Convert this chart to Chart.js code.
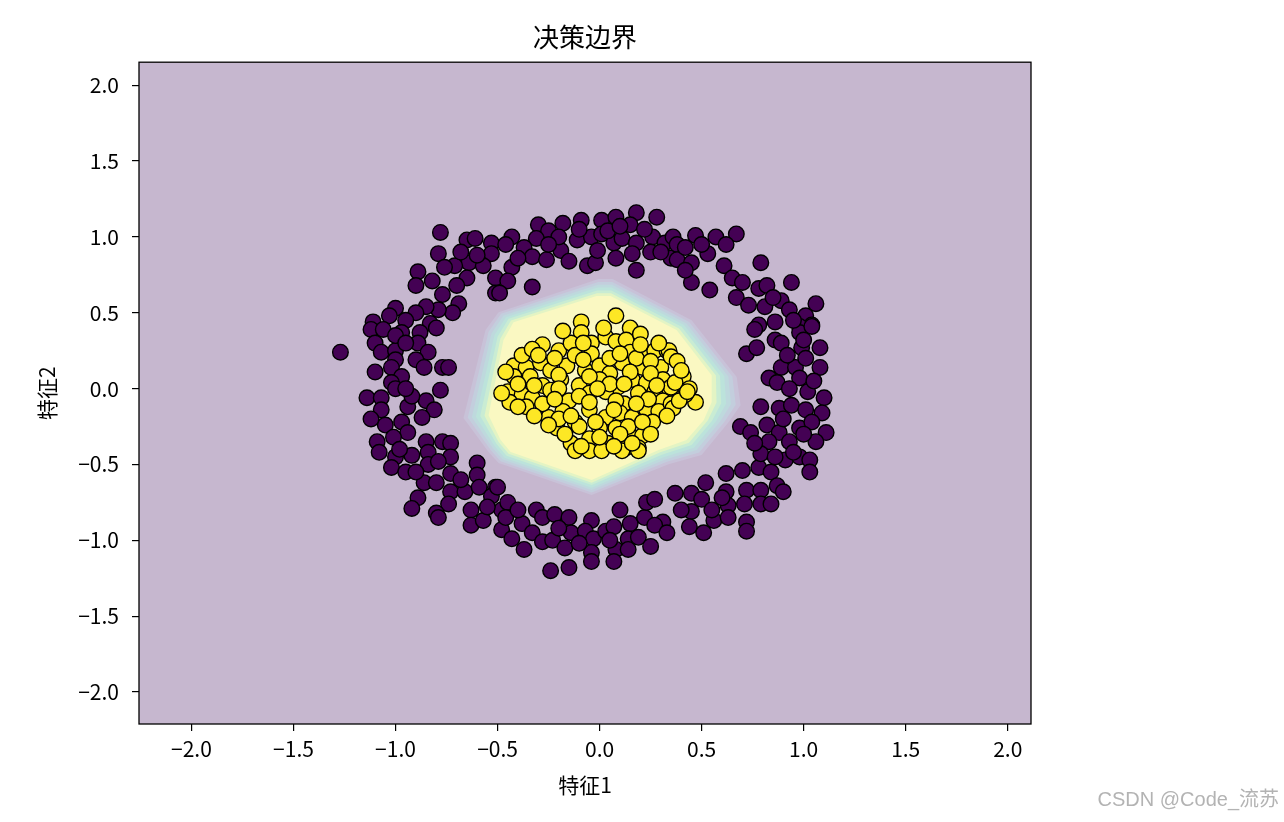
<!DOCTYPE html>
<html>
<head>
<meta charset="utf-8">
<title>决策边界</title>
<script src="https://cdn.jsdelivr.net/npm/chart.js@4.4.1/dist/chart.umd.min.js"></script>
<style>
    html, body { margin: 0; padding: 0; background: #fff; }
    #wrap { width: 1284px; height: 822px; }
</style>
</head>
<body>
<div id="wrap"><canvas id="myChart" width="1284" height="822"></canvas></div>
<script>
// gioi han truc (x.min-1 .. x.max+1)
var xLimits = [-2.257, 2.114];
var yLimits = [-2.211, 2.152];
var xTicks = [-2.0, -1.5, -1.0, -0.5, 0.0, 0.5, 1.0, 1.5, 2.0];
var yTicks = [-2.0, -1.5, -1.0, -0.5, 0.0, 0.5, 1.0, 1.5, 2.0];

// lop 0 - vong ngoai
var class0Points = [
    [-0.78,1.03],[-0.79,0.89],[-0.65,0.98],[-0.61,0.99],[-0.53,0.96],[-0.53,0.89],[-0.64,0.83],[-0.57,0.81],[-0.51,0.73],[-0.71,0.81],
    [-0.76,0.80],[-0.89,0.77],[-0.90,0.68],[-0.82,0.71],[-0.65,0.73],[-0.70,0.68],[-0.51,0.63],[-0.77,0.62],[-0.69,0.56],[-0.72,0.50],
    [-0.79,0.52],[-0.85,0.54],[-0.90,0.50],[-1.00,0.53],[-1.03,0.48],[-1.11,0.44],[-0.95,0.45],[-0.83,0.43],
    [-0.43,1.00],[-0.30,1.08],[-0.25,1.04],[-0.18,1.09],[-0.09,1.11],[0.01,1.11],[0.08,1.13],[0.18,1.16],[0.28,1.13],[0.15,1.08],
    [-0.31,0.99],[-0.37,0.93],[-0.46,0.95],[-0.33,0.87],[-0.26,0.85],[-0.19,0.91],[-0.11,0.98],[-0.04,1.00],[0.01,1.02],[-0.06,0.81],
    [-0.02,0.83],[-0.01,0.91],[0.07,0.96],[0.11,0.99],[0.18,0.96],[0.18,0.78],[0.16,0.89],[0.26,1.00],[0.25,0.90],[0.32,0.96],
    [0.35,0.86],[-0.43,0.80],[-0.45,0.71],[-0.33,0.67],[-0.49,0.63],[0.04,1.04],
    [0.36,1.00],[0.38,0.95],[0.47,1.01],[0.57,1.00],[0.67,1.02],[0.53,0.89],[0.62,0.95],[0.38,0.85],[0.45,0.83],[0.61,0.81],
    [0.65,0.73],[0.45,0.70],[0.54,0.65],[0.79,0.83],[0.94,0.70],[0.78,0.66],[0.82,0.68],[0.67,0.60],[0.73,0.55],[0.81,0.54],
    [0.89,0.58],[0.93,0.52],[1.06,0.56],[1.01,0.48],[0.86,0.44],[0.78,0.42],[1.04,0.42],[0.98,0.41],
    [-1.27,0.24],[-1.12,0.39],[-0.97,0.37],[-0.88,0.37],[-0.80,0.40],[-1.10,0.30],[-1.07,0.24],[-1.00,0.25],[-0.89,0.30],[-0.84,0.24],
    [-1.00,0.19],[-0.90,0.19],[-1.10,0.11],[-1.02,0.14],[-0.97,0.08],[-0.86,0.14],[-0.77,0.14],[-0.74,0.14],[-1.02,0.04],[-1.00,0.00],
    [-1.14,-0.06],[-1.07,-0.06],[-0.78,-0.01],[-0.85,-0.08],[-0.94,-0.12],[-0.81,-0.14],[-1.07,-0.14],[-1.05,-0.24],[-0.97,-0.22],[-0.87,-0.19],
    [-0.94,-0.29],[-1.01,-0.32],[-1.09,-0.35],[-0.85,-0.35],[-0.77,-0.35],[-0.73,-0.36],[-1.06,0.39],[-1.00,0.35],
    [0.72,0.23],[0.77,0.27],[0.76,0.39],[0.86,0.32],[0.89,0.30],[0.98,0.37],[1.04,0.41],[1.08,0.27],[0.99,0.27],[0.89,0.14],
    [0.96,0.14],[1.01,0.20],[1.08,0.14],[0.83,0.07],[0.87,0.04],[0.98,0.07],[1.02,-0.02],[1.10,-0.06],[0.79,-0.12],[0.88,-0.13],
    [0.94,-0.11],[1.01,-0.14],[1.09,-0.16],[0.69,-0.25],[0.74,-0.29],[0.82,-0.24],[0.88,-0.29],[0.98,-0.26],[1.04,-0.22],[1.11,-0.29],
    [0.83,-0.35],[0.93,-0.35],[1.06,-0.35],
    [-1.08,-0.42],[-1.00,-0.45],[-0.92,-0.44],[-0.84,-0.42],[-0.73,-0.45],[-0.60,-0.49],[-1.02,-0.52],[-0.95,-0.55],[-0.84,-0.50],[-0.79,-0.48],
    [-0.86,-0.62],[-0.80,-0.62],[-0.73,-0.56],[-0.60,-0.57],[-0.73,-0.68],[-0.66,-0.68],[-0.59,-0.65],[-0.51,-0.65],[-0.53,-0.71],[-0.74,-0.76],
    [-0.89,-0.72],[-0.92,-0.79],[-0.80,-0.82],[-0.79,-0.85],[-0.63,-0.80],[-0.63,-0.90],[-0.57,-0.87],[-0.48,-0.80],[-0.48,-0.93],
    [-0.50,-0.65],[-0.45,-0.75],[-0.46,-0.85],[-0.43,-0.99],[-0.38,-0.89],[-0.37,-1.06],[-0.31,-0.80],[-0.28,-0.85],[-0.33,-0.95],[-0.28,-1.01],
    [-0.22,-0.83],[-0.15,-0.85],[-0.23,-1.00],[-0.17,-1.05],[-0.14,-0.95],[-0.24,-1.20],[-0.15,-1.18],[-0.04,-0.87],[-0.07,-0.94],[-0.03,-0.99],
    [-0.04,-1.08],[-0.04,-1.14],[0.03,-0.94],[0.07,-0.91],[0.10,-0.80],[0.15,-0.89],[0.08,-1.06],[0.07,-1.14],[0.14,-0.99],[0.19,-0.98],
    [0.14,-1.06],[0.22,-0.85],[0.23,-0.75],[0.27,-0.73],[0.25,-1.04],[0.31,-0.88],[0.27,-0.90],
    [0.37,-0.69],[0.45,-0.69],[0.45,-0.81],[0.44,-0.91],[0.51,-0.95],[0.52,-0.62],[0.50,-0.73],[0.56,-0.87],[0.62,-0.56],[0.62,-0.68],
    [0.63,-0.77],[0.63,-0.85],[0.70,-0.54],[0.72,-0.67],[0.71,-0.76],[0.72,-0.88],[0.72,-0.94],[0.78,-0.52],[0.79,-0.67],[0.79,-0.76],
    [0.84,-0.55],[0.87,-0.64],[0.90,-0.68],[0.84,-0.76],[0.79,-0.43],[0.91,-0.47],[0.98,-0.45],[1.03,-0.47],[1.03,-0.55],
    [-0.20,1.00],[-0.10,1.05],[0.10,1.07],[0.22,1.05],[0.30,0.90],[0.42,0.93],[0.50,0.95],[-0.15,0.84],[0.08,0.86],[0.42,0.78],
    [-0.60,0.88],[-0.68,0.90],[-0.40,0.86],[-0.25,0.95],[0.70,0.70],[0.85,0.60],[0.95,0.45],[1.00,0.32],[0.92,0.22],[1.05,0.05],
    [0.93,0.00],[0.90,-0.20],[1.00,-0.30],[0.95,-0.42],[0.86,-0.45],[0.76,-0.36],[0.60,-0.72],[0.55,-0.80],[0.40,-0.80],[0.33,-0.95],
    [0.05,-1.00],[-0.10,-1.02],[-0.20,-0.92],[-0.40,-0.80],[-0.55,-0.78],[-0.68,-0.60],[-0.95,0.30],[-0.92,-0.05],[-0.95,0.00],[-1.12,-0.20],
    [-0.98,-0.40],[-0.90,-0.55]
];

// lop 1 - cum o giua
var class1Points = [
    [0.08,0.48],[-0.09,0.44],[0.15,0.40],[-0.09,0.37],[-0.28,0.29],[-0.20,0.25],[-0.14,0.30],[-0.04,0.30],[0.03,0.34],[0.08,0.31],
    [0.13,0.32],[-0.04,0.23],[0.15,0.24],[0.23,0.23],[0.27,0.25],[0.33,0.25],[-0.42,0.15],[-0.36,0.14],[-0.29,0.17],[-0.24,0.12],
    [-0.16,0.15],[-0.07,0.12],[0.00,0.15],[0.11,0.17],[0.21,0.14],[0.30,0.14],[0.05,0.10],[-0.42,0.08],[-0.34,0.08],[-0.28,0.02],
    [-0.19,0.06],[-0.10,0.02],[0.00,0.06],[0.09,0.01],[0.16,0.06],[0.23,0.04],[0.31,0.06],[0.34,0.00],[-0.45,-0.02],[-0.38,-0.04],
    [-0.33,-0.06],[-0.24,-0.01],[-0.15,-0.08],[-0.05,-0.03],[0.03,-0.02],[0.12,-0.10],[0.19,-0.03],[0.27,-0.02],[0.31,-0.08],[-0.44,-0.09],
    [-0.36,-0.12],[-0.25,-0.19],[-0.18,-0.15],[-0.12,-0.22],[-0.05,-0.14],[0.03,-0.19],[0.10,-0.16],[0.16,-0.19],[0.23,-0.14],[0.29,-0.15],
    [-0.21,-0.26],[-0.10,-0.25],[0.00,-0.26],[0.08,-0.26],[0.16,-0.32],[0.21,-0.31],[-0.14,-0.36],[-0.05,-0.33],[0.04,-0.36],[0.13,-0.39],
    [0.19,-0.39],[0.34,0.25],[0.35,0.21],[0.41,0.08],[0.44,0.00],[0.47,-0.09],[0.35,0.01],[0.37,0.04],[0.35,-0.10],[0.36,-0.13],
    [-0.48,-0.03],[-0.12,-0.41],[-0.05,-0.41],[0.01,-0.41],[0.11,-0.41],[0.19,-0.41],
    [-0.38,0.22],[-0.22,0.20],[-0.12,0.22],[0.05,0.20],[0.18,0.20],[0.25,0.18],[-0.32,0.02],[-0.05,0.08],[0.05,0.03],[0.24,-0.07],
    [-0.28,-0.10],[-0.10,-0.05],[0.08,-0.08],[-0.20,-0.20],[-0.02,-0.22],[0.14,-0.25],[0.26,-0.22],[-0.25,-0.24],
    [-0.18,0.38],[0.02,0.40],[0.20,0.36],[-0.33,0.26],[-0.08,0.30],[0.20,0.29],[0.29,0.30],[-0.30,0.22],[-0.08,0.19],[0.10,0.23],
    [0.38,0.18],[-0.46,0.11],[-0.20,0.09],[0.15,0.11],[0.25,0.10],[0.40,0.12],[-0.40,0.03],[-0.20,0.00],[-0.01,0.00],[0.12,0.03],
    [0.28,0.02],[0.42,-0.04],[-0.40,-0.12],[-0.22,-0.07],[-0.05,-0.09],[0.18,-0.10],[0.39,-0.08],[0.43,-0.02],[-0.32,-0.18],[-0.14,-0.18],
    [0.07,-0.14],[0.21,-0.22],[0.33,-0.18],[-0.17,-0.30],[0.00,-0.32],[0.10,-0.30],[0.25,-0.30],[-0.09,-0.38],[0.07,-0.38],[0.16,-0.36]
];

// cac duong muc cua contourf (tu ngoai vao trong)
var level1 = [[-0.005,0.722],[0.064,0.722],[0.451,0.451],[0.672,0.076],[0.691,-0.109],[0.632,-0.221],[0.500,-0.438],[0.338,-0.498],[-0.039,-0.702],[-0.495,-0.491],[-0.544,-0.418],[-0.667,-0.194],[-0.559,0.386],[-0.495,0.504]];
var level2 = [[-0.007,0.703],[0.062,0.703],[0.439,0.440],[0.651,0.078],[0.667,-0.106],[0.612,-0.219],[0.488,-0.421],[0.330,-0.482],[-0.039,-0.685],[-0.485,-0.479],[-0.534,-0.405],[-0.646,-0.191],[-0.544,0.375],[-0.483,0.493]];
var level3 = [[-0.008,0.685],[0.061,0.685],[0.426,0.429],[0.631,0.080],[0.644,-0.102],[0.591,-0.217],[0.475,-0.405],[0.322,-0.467],[-0.039,-0.669],[-0.475,-0.467],[-0.524,-0.392],[-0.626,-0.188],[-0.530,0.364],[-0.471,0.482]];
var level4 = [[-0.010,0.666],[0.059,0.666],[0.414,0.419],[0.611,0.083],[0.620,-0.099],[0.571,-0.215],[0.463,-0.389],[0.314,-0.452],[-0.039,-0.653],[-0.466,-0.455],[-0.515,-0.379],[-0.606,-0.185],[-0.515,0.353],[-0.459,0.471]];
var level5 = [[-0.012,0.647],[0.057,0.647],[0.402,0.408],[0.590,0.085],[0.596,-0.096],[0.551,-0.212],[0.451,-0.372],[0.305,-0.436],[-0.039,-0.636],[-0.456,-0.442],[-0.505,-0.365],[-0.585,-0.181],[-0.500,0.342],[-0.446,0.460]];
var level6 = [[-0.013,0.629],[0.056,0.629],[0.389,0.397],[0.570,0.087],[0.573,-0.092],[0.530,-0.210],[0.438,-0.356],[0.297,-0.420],[-0.039,-0.620],[-0.446,-0.430],[-0.495,-0.352],[-0.564,-0.178],[-0.486,0.331],[-0.434,0.449]];
var level7 = [[-0.015,0.610],[0.054,0.610],[0.377,0.386],[0.549,0.089],[0.549,-0.089],[0.510,-0.208],[0.426,-0.339],[0.289,-0.405],[-0.039,-0.603],[-0.436,-0.418],[-0.485,-0.339],[-0.544,-0.175],[-0.471,0.320],[-0.422,0.438]];

// mau viridis alpha 0.3 tren nen trang
var levelColors = ['rgb(198,183,207)', 'rgb(200,194,216)', 'rgb(195,206,221)', 'rgb(190,217,221)', 'rgb(188,227,219)', 'rgb(201,236,211)', 'rgb(227,244,196)', 'rgb(250,248,194)'];

var fontFamily = '"Noto Sans CJK SC", "Noto Sans", sans-serif';

function toXY(arr) {
    var out = arr.map(function (p) { return { x: p[0], y: p[1] }; });
    return out;
}
function closed(arr) {
    var out = toXY(arr);
    out.push({ x: arr[0][0], y: arr[0][1] });
    return out;
}
function tickText(v) {
    return (v < 0 ? "\u2212" : "") + Math.abs(v).toFixed(1);
}

var levels = [
    [[xLimits[0], yLimits[0]], [xLimits[1], yLimits[0]], [xLimits[1], yLimits[1]], [xLimits[0], yLimits[1]]],
    level1, level2, level3, level4, level5, level6, level7
];

var datasets = [];
datasets.push({
    type: 'scatter', label: 'class0', data: toXY(class0Points), order: 1,
    backgroundColor: '#440154', borderColor: '#000', borderWidth: 1.4, pointRadius: 7.8, pointHoverRadius: 7.8
});
datasets.push({
    type: 'scatter', label: 'class1', data: toXY(class1Points), order: 0,
    backgroundColor: '#fde725', borderColor: '#000', borderWidth: 1.4, pointRadius: 7.8, pointHoverRadius: 7.8
});
for (var i = 0; i < levels.length; i++) {
    datasets.push({
        type: 'line', label: 'level' + i, data: closed(levels[i]), order: 30 - i,
        fill: 'shape', backgroundColor: levelColors[i], borderColor: levelColors[i],
        borderWidth: 0, pointRadius: 0, tension: 0
    });
}

// vien khung + chu watermark
var framePlugin = {
    id: 'framePlugin',
    afterDatasetsDraw: function (chart) {
        var a = chart.chartArea, ctx = chart.ctx;
        ctx.save();
        ctx.strokeStyle = '#000';
        ctx.lineWidth = 1.3;
        ctx.strokeRect(a.left, a.top, a.right - a.left, a.bottom - a.top);
        ctx.restore();
    },
    afterDraw: function (chart) {
        var ctx = chart.ctx;
        ctx.save();
        ctx.font = '20px "Liberation Sans", Arial, ' + fontFamily;
        ctx.fillStyle = 'rgba(160,160,160,0.8)';
        ctx.textAlign = 'right';
        ctx.textBaseline = 'middle';
        ctx.fillText('CSDN @Code_流苏', 1279, 800);
        ctx.restore();
    }
};

var ctx = document.getElementById('myChart').getContext('2d');
var myChart = new Chart(ctx, {
    type: 'scatter',
    data: { datasets: datasets },
    plugins: [framePlugin],
    options: {
        responsive: false,
        animation: false,
        devicePixelRatio: 1,
        layout: { padding: { left: 0, right: 253, top: 0, bottom: 0 } },
        plugins: {
            legend: { display: false },
            tooltip: { enabled: false },
            title: {
                display: true, text: '决策边界', fullSize: false, color: '#000',
                font: { family: fontFamily, size: 26, weight: 'normal' },
                padding: { top: 22, bottom: 9 }
            }
        },
        scales: {
            x: {
                type: 'linear', min: xLimits[0], max: xLimits[1],
                afterBuildTicks: function (scale) { scale.ticks = xTicks.map(function (v) { return { value: v }; }); },
                afterFit: function (scale) { scale.height = 98; },
                ticks: { callback: tickText, color: '#000', padding: 5, maxRotation: 0, includeBounds: false,
                    font: { family: fontFamily, size: 21 } },
                grid: { display: true, drawOnChartArea: false, drawTicks: true, tickLength: 7, color: '#000', lineWidth: 1.2 },
                border: { display: false },
                title: { display: true, text: '特征1', color: '#000', font: { family: fontFamily, size: 21 },
                    padding: { top: 4, bottom: 24 } }
            },
            y: {
                type: 'linear', min: yLimits[0], max: yLimits[1],
                afterBuildTicks: function (scale) { scale.ticks = yTicks.map(function (v) { return { value: v }; }); },
                afterFit: function (scale) { scale.width = 139; },
                ticks: { callback: tickText, color: '#000', padding: 13, includeBounds: false,
                    font: { family: fontFamily, size: 21 } },
                grid: { display: true, drawOnChartArea: false, drawTicks: true, tickLength: 7, color: '#000', lineWidth: 1.2 },
                border: { display: false },
                title: { display: true, text: '特征2', color: '#000', font: { family: fontFamily, size: 21 },
                    padding: { top: 34, bottom: 4 } }
            }
        }
    }
});
</script>
</body>
</html>
